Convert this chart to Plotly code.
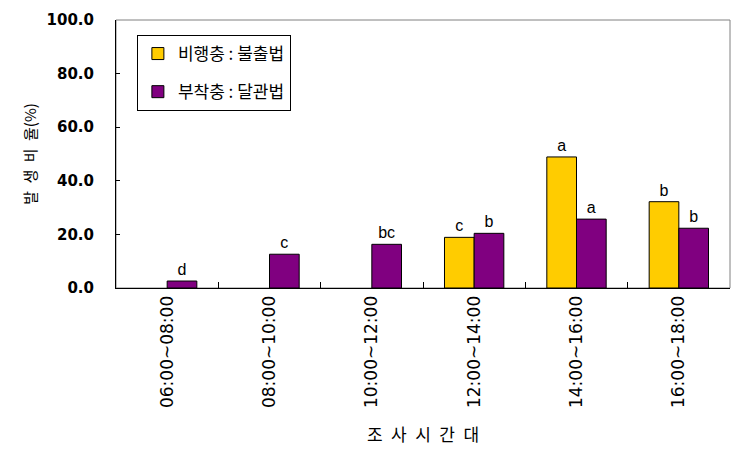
import plotly.graph_objects as go

categories = ["06:00~08:00", "08:00~10:00", "10:00~12:00", "12:00~14:00", "14:00~16:00", "16:00~18:00"]
flying_values = [None, None, None, 18.9, 48.9, 32.2]
flying_letters = ["", "", "", "c", "a", "b"]
attached_values = [2.6, 12.6, 16.3, 20.4, 25.7, 22.3]
attached_letters = ["d", "c", "bc", "b", "a", "b"]
series_names = ["비행충 : 불출법", "부착충 : 달관법"]
y_ticks = [0, 20, 40, 60, 80, 100]

KFONT = "Noto Sans CJK KR"
AFONT = "Liberation Sans, Arial"
WFONT = "DejaVu Sans"
SP = "\u2002"

fig = go.Figure()
fig.add_trace(go.Bar(
    x=categories, y=flying_values, name=series_names[0],
    marker=dict(color="#FFCC00", line=dict(color="black", width=1)),
    text=flying_letters, textposition="outside",
    textfont=dict(family=AFONT, size=16, color="black"),
    legendgroup="g1", cliponaxis=False,
))
fig.add_trace(go.Bar(
    x=categories, y=attached_values, name=series_names[1],
    marker=dict(color="#800080", line=dict(color="black", width=1)),
    text=attached_letters, textposition="outside",
    textfont=dict(family=AFONT, size=16, color="black"),
    legendgroup="g2", cliponaxis=False,
))

fig.update_layout(
    width=743, height=465,
    margin=dict(l=116, r=13, t=20, b=177),
    paper_bgcolor="white", plot_bgcolor="white",
    barmode="group", bargap=0.42, bargroupgap=0,
    showlegend=True,
    legend=dict(
        x=0.034, y=0.944, xanchor="left", yanchor="top",
        bordercolor="black", borderwidth=1, bgcolor="white",
        font=dict(family=KFONT, size=17, color="black"),
        tracegroupgap=13, traceorder="grouped",
    ),
    xaxis=dict(
        type="category", tickson="boundaries", ticks="inside", ticklen=6,
        tickcolor="black", showline=True, linecolor="black", linewidth=1,
        tickangle=-90, tickfont=dict(family=WFONT, size=17, color="black"),
        title=dict(text=SP.join("조사시간대"), font=dict(family=KFONT, size=17, color="black"), standoff=22),
        showgrid=False,
    ),
    yaxis=dict(
        range=[0, 100], tickvals=y_ticks, tickformat=".1f",
        ticks="inside", ticklen=4, tickcolor="black",
        showline=True, linecolor="black", linewidth=1,
        ticklabelstandoff=18,
        tickfont=dict(family=WFONT, size=15, color="black", weight="bold"),
        title=dict(text=SP.join(["발", "생", "비", "율(%)"]), font=dict(family=KFONT, size=15, color="black"), standoff=6),
        showgrid=False, zeroline=False,
    ),
    shapes=[dict(type="rect", xref="paper", yref="paper", x0=0, x1=1, y0=0, y1=1,
                 line=dict(color="#808080", width=1), layer="below")],
)

fig.write_html("out.html")
